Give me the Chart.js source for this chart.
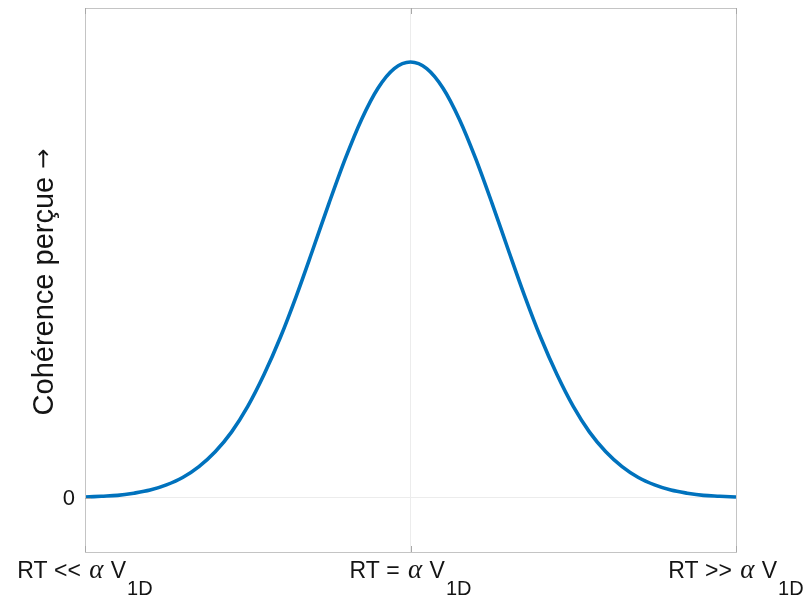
<!DOCTYPE html>
<html>
<head>
<meta charset="utf-8">
<script src="https://cdn.jsdelivr.net/npm/chart.js@4.4.1/dist/chart.umd.min.js"></script>
<style>
  html, body { margin: 0; padding: 0; background: #ffffff; }
  #wrap { width: 809px; height: 604px; }
</style>
</head>
<body>
<div id="wrap"><canvas id="c" width="809" height="604"></canvas></div>
<script>
// Response-time position, from far below to far above the critical value
const rtPositions = [-1.00, -0.95, -0.90, -0.85, -0.80, -0.75, -0.70, -0.65, -0.60, -0.55,
                     -0.50, -0.45, -0.40, -0.35, -0.30, -0.25, -0.20, -0.15, -0.10, -0.05,
                      0.00,
                      0.05,  0.10,  0.15,  0.20,  0.25,  0.30,  0.35,  0.40,  0.45,  0.50,
                      0.55,  0.60,  0.65,  0.70,  0.75,  0.80,  0.85,  0.90,  0.95,  1.00];
// Perceived coherence (arbitrary units, peak = 1)
const coherence = [0.002, 0.004, 0.006, 0.011, 0.018, 0.030, 0.047, 0.072, 0.106, 0.151,
                   0.210, 0.283, 0.368, 0.465, 0.570, 0.677, 0.779, 0.869, 0.940, 0.985,
                   1.000,
                   0.985, 0.940, 0.869, 0.779, 0.677, 0.570, 0.465, 0.368, 0.283, 0.210,
                   0.151, 0.106, 0.072, 0.047, 0.030, 0.018, 0.011, 0.006, 0.004, 0.002];

// Tick positions and their labels: operator text + α V + subscript
const xTickValues = [-1, 0, 1];
const xTickPrefix = ['RT << ', 'RT = ', 'RT >> '];
const xTickSymbol = 'α';
const xTickVar = ' V';
const xTickSub = '1D';
const yTickValues = [0];
const yTickLabels = ['0'];
const yTitleText = 'Cohérence perçue ';
const yTitleArrow = '→';

const SANS = '"Liberation Sans", Arial, Helvetica, sans-serif';
const SERIF = '"Liberation Serif", "Times New Roman", serif';
const INK = '#141414';

const frameAndLabels = {
  id: 'frameAndLabels',
  afterDraw(chart) {
    const ctx = chart.ctx;
    const a = chart.chartArea;
    const xs = chart.scales.x, ys = chart.scales.y;
    ctx.save();
    // axes box
    ctx.strokeStyle = '#c4c4c4';
    ctx.lineWidth = 1;
    ctx.strokeRect(Math.round(a.left) + 0.5, Math.round(a.top) + 0.5,
                   Math.round(a.right - a.left), Math.round(a.bottom - a.top));
    // inward tick marks
    ctx.strokeStyle = '#a8a8a8';
    xTickValues.forEach(v => {
      const px = Math.round(xs.getPixelForValue(v)) + 0.5;
      ctx.beginPath();
      ctx.moveTo(px, a.top); ctx.lineTo(px, a.top + 6);
      ctx.moveTo(px, a.bottom); ctx.lineTo(px, a.bottom - 6);
      ctx.stroke();
    });
    yTickValues.forEach(v => {
      const py = Math.round(ys.getPixelForValue(v)) + 0.5;
      ctx.beginPath();
      ctx.moveTo(a.left, py); ctx.lineTo(a.left + 6, py);
      ctx.stroke();
    });

    // x tick labels with Greek symbol and subscript
    ctx.fillStyle = INK;
    ctx.textBaseline = 'alphabetic';
    ctx.textAlign = 'left';
    const mainFont = '23px ' + SANS;
    const symFont = 'italic 27px ' + SERIF;
    const subFont = '20px ' + SANS;
    const baseY = a.bottom + 26;
    xTickValues.forEach((v, i) => {
      const runs = [
        { t: xTickPrefix[i], f: mainFont, dy: 0, gap: 2 },
        { t: xTickSymbol, f: symFont, dy: 0, gap: 1 },
        { t: xTickVar, f: mainFont, dy: 0, gap: 1 },
        { t: xTickSub, f: subFont, dy: 17, gap: 0 }
      ];
      let w = 0;
      runs.forEach(r => { ctx.font = r.f; r.w = ctx.measureText(r.t).width + r.gap; w += r.w; });
      let x = xs.getPixelForValue(v) - w / 2;
      runs.forEach(r => { ctx.font = r.f; ctx.fillText(r.t, x, baseY + r.dy); x += r.w; });
    });

    // y tick labels
    ctx.font = '22px ' + SANS;
    ctx.textAlign = 'right';
    ctx.textBaseline = 'middle';
    yTickValues.forEach((v, i) => {
      ctx.fillText(yTickLabels[i], a.left - 10, ys.getPixelForValue(v) + 1);
    });

    // y axis title, rotated
    const tFont = '29px ' + SANS;
    const aFont = '24px "DejaVu Sans", sans-serif';
    ctx.font = tFont;
    const tw = ctx.measureText(yTitleText).width;
    ctx.font = aFont;
    const aw = ctx.measureText(yTitleArrow).width;
    ctx.textAlign = 'left';
    ctx.textBaseline = 'alphabetic';
    ctx.translate(53, (a.top + a.bottom) / 2 + 2);
    ctx.rotate(-Math.PI / 2);
    const start = -(tw + aw) / 2;
    ctx.font = tFont;
    ctx.fillText(yTitleText, start, 0);
    ctx.font = aFont;
    ctx.fillText(yTitleArrow, start + tw, -2);
    ctx.restore();
  }
};

new Chart(document.getElementById('c'), {
  type: 'line',
  data: {
    datasets: [{
      data: rtPositions.map((x, i) => ({ x: x, y: coherence[i] })),
      borderColor: '#0072BD',
      borderWidth: 3.6,
      pointRadius: 0,
      tension: 0.4,
      cubicInterpolationMode: 'monotone',
      fill: false
    }]
  },
  options: {
    responsive: false,
    animation: false,
    layout: { padding: { left: 85, right: 73, top: 8, bottom: 52 } },
    plugins: { legend: { display: false }, tooltip: { enabled: false } },
    scales: {
      x: {
        type: 'linear',
        min: -1, max: 1,
        afterBuildTicks: s => { s.ticks = xTickValues.map(v => ({ value: v })); },
        ticks: { display: false },
        border: { display: false },
        grid: {
          drawTicks: false,
          color: c => (c.tick && c.tick.value === 0) ? '#ececec' : 'rgba(0,0,0,0)',
          lineWidth: 1
        }
      },
      y: {
        type: 'linear',
        min: -0.124, max: 1.124,
        afterBuildTicks: s => { s.ticks = yTickValues.map(v => ({ value: v })); },
        ticks: { display: false },
        border: { display: false },
        grid: {
          drawTicks: false,
          color: '#ececec',
          lineWidth: 1
        }
      }
    }
  },
  plugins: [frameAndLabels]
});
</script>
</body>
</html>
